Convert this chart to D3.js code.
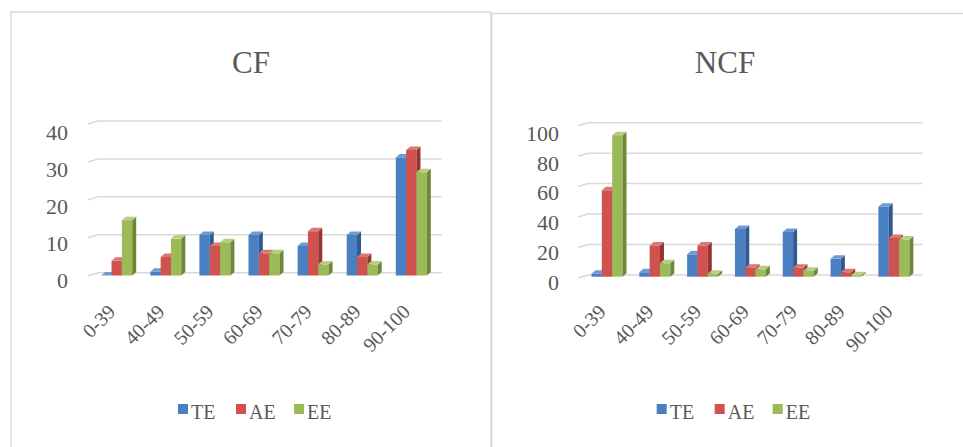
<!DOCTYPE html>
<html>
<head>
<meta charset="utf-8">
<script src="https://cdn.jsdelivr.net/npm/d3@7/dist/d3.min.js"></script>
<style>
  html, body { margin: 0; padding: 0; background: #ffffff; }
  svg { display: block; }
  text { font-family: "Liberation Serif", "Times New Roman", serif; fill: #595959; }
</style>
</head>
<body>
<svg id="chart" width="963" height="447"></svg>
<script>
// Score bands shared by both panels
const categories = ["0-39", "40-49", "50-59", "60-69", "70-79", "80-89", "90-100"];
const seriesNames = ["TE", "AE", "EE"];

// CF panel counts per band
const cfTE = [0, 1, 11, 11, 8, 11, 32];
const cfAE = [4, 5, 8, 6, 12, 5, 34];
const cfEE = [15, 10, 9, 6, 3, 3, 28];
const cfTicks = [0, 10, 20, 30, 40];

// NCF panel counts per band
const ncfTE = [2, 3, 15, 32, 30, 12, 47];
const ncfAE = [58, 21, 21, 6, 6, 3, 26];
const ncfEE = [95, 9, 2, 5, 4, 1, 25];
const ncfTicks = [0, 20, 40, 60, 80, 100];

// Face colours for the 3-D columns: front, side, top
const palette = {
  TE: { front: "#4a7fc1", side: "#2f5b92", top: "#6f9bd2" },
  AE: { front: "#cf524e", side: "#963431", top: "#dc7774" },
  EE: { front: "#9bbb59", side: "#6e883a", top: "#b6cf80" }
};

const svg = d3.select("#chart");

function drawPanel(cfg) {
  const g = svg.append("g");
  const series = [cfg.te, cfg.ae, cfg.ee];

  // card frame
  g.append("rect")
    .attr("x", cfg.frame[0]).attr("y", cfg.frame[1])
    .attr("width", cfg.frame[2]).attr("height", cfg.frame[3])
    .attr("fill", "#ffffff")
    .attr("stroke", "#d9d9d9").attr("stroke-width", 1.5);

  // title
  g.append("text")
    .attr("x", cfg.titleX).attr("y", 73)
    .attr("text-anchor", "middle")
    .attr("font-size", 31)
    .text(cfg.title);

  const max = cfg.ticks[cfg.ticks.length - 1];
  const x = d3.scaleBand().domain(categories).range([cfg.left, cfg.right]);
  const x1 = d3.scaleBand().domain(seriesNames).range([0, cfg.groupWidth]);
  // back wall (gridlines) and front plane (columns, labels)
  const yBack = d3.scaleLinear().domain([0, max]).range([cfg.backBase, cfg.backTop]);
  const yFront = d3.scaleLinear().domain([0, max]).range([cfg.frontBase, cfg.frontTop]);
  const yLabel = d3.scaleLinear().domain([0, max]).range([cfg.frontBase + cfg.labelShift, cfg.frontTop + cfg.labelShift]);

  // gridlines, with the short slanted segment on the side wall
  g.append("g").selectAll("path")
    .data(cfg.ticks)
    .join("path")
    .attr("d", t => `M${cfg.left - 10},${yBack(t) + 3}L${cfg.left},${yBack(t)}L${cfg.right},${yBack(t)}`)
    .attr("fill", "none")
    .attr("stroke", "#d9d9d9")
    .attr("stroke-width", 1.5);

  // value axis labels
  const yAxis = g.append("g")
    .attr("transform", `translate(${cfg.labelRight},0)`)
    .call(d3.axisLeft(yLabel).tickValues(cfg.ticks).tickSize(0).tickPadding(0));
  yAxis.select(".domain").remove();
  yAxis.selectAll("text")
    .attr("font-size", 22)
    .attr("font-family", "Liberation Serif, serif")
    .attr("fill", "#595959");

  // 3-D columns
  const dx = 4, dy = 3.5;
  const barW = x1.bandwidth();
  const bars = [];
  categories.forEach((c, i) => {
    seriesNames.forEach((s, j) => {
      bars.push({ cat: c, s: s, v: series[j][i] });
    });
  });
  const bg = g.append("g").selectAll("g").data(bars).join("g");
  bg.each(function (d) {
    const el = d3.select(this);
    const bx = x(d.cat) + cfg.groupOffset + x1(d.s);
    const yt = yFront(d.v);
    const yb = yFront(0);
    const col = palette[d.s];
    el.append("rect")
      .attr("x", bx).attr("y", yt)
      .attr("width", barW).attr("height", Math.max(0, yb - yt))
      .attr("fill", col.front);
    el.append("polygon")
      .attr("points", [[bx + barW, yt], [bx + barW + dx, yt - dy], [bx + barW + dx, yb - dy], [bx + barW, yb]].map(p => p.join(",")).join(" "))
      .attr("fill", col.side);
    el.append("polygon")
      .attr("points", [[bx, yt], [bx + dx, yt - dy], [bx + barW + dx, yt - dy], [bx + barW, yt]].map(p => p.join(",")).join(" "))
      .attr("fill", col.top);
  });

  // category labels, rotated
  g.append("g").selectAll("text")
    .data(categories)
    .join("text")
    .attr("transform", c => `translate(${x(c) + cfg.groupOffset + cfg.groupWidth / 2},${cfg.catLabelY}) rotate(-45)`)
    .attr("text-anchor", "end")
    .attr("font-size", 20)
    .text(c => c);

  // legend
  const lg = g.append("g").attr("transform", `translate(${cfg.legendX},404)`);
  const item = lg.selectAll("g").data(seriesNames).join("g")
    .attr("transform", (s, i) => `translate(${i * 58},0)`);
  item.append("rect")
    .attr("width", 10).attr("height", 10)
    .attr("fill", s => palette[s].front);
  item.append("text")
    .attr("x", 13).attr("y", 15)
    .attr("font-size", 20)
    .text(s => s);
}

drawPanel({
  title: "CF", te: cfTE, ae: cfAE, ee: cfEE, ticks: cfTicks,
  frame: [11, 12, 480, 460], titleX: 251,
  left: 98, right: 441.7, backBase: 272.7, backTop: 121,
  frontBase: 275.5, frontTop: 127.9, labelShift: 4.5, labelRight: 68,
  groupWidth: 31, groupOffset: 3.2, catLabelY: 313, legendX: 178
});

drawPanel({
  title: "NCF", te: ncfTE, ae: ncfAE, ee: ncfEE, ticks: ncfTicks,
  frame: [491.5, 13.5, 480, 460], titleX: 725,
  left: 588, right: 922.7, backBase: 275, backTop: 122.7,
  frontBase: 276.7, frontTop: 127.7, labelShift: 5.5, labelRight: 559,
  groupWidth: 31, groupOffset: 3.5, catLabelY: 313, legendX: 656.7
});
</script>
</body>
</html>
